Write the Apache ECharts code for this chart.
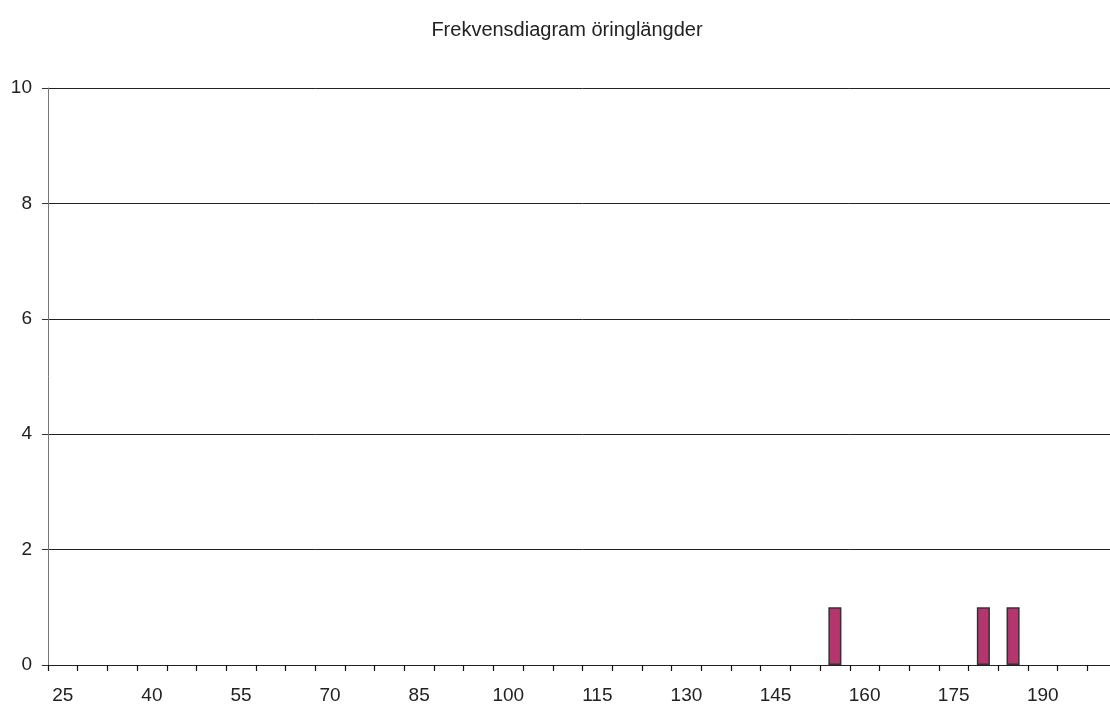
<!DOCTYPE html>
<html><head><meta charset="utf-8">
<script src="https://cdn.jsdelivr.net/npm/echarts@6/dist/echarts.min.js"></script>
<style>html,body{margin:0;padding:0;background:#fff;overflow:hidden}#c{width:1117px;height:711px}</style>
</head><body><div id="c"></div>
<script>
const title = 'Frekvensdiagram öringlängder';
const categories = ['25','30','35','40','45','50','55','60','65','70','75','80','85','90','95','100','105','110','115','120','125','130','135','140','145','150','155','160','165','170','175','180','185','190','195','200'];
const counts = [0,0,0,0,0,0,0,0,0,0,0,0,0,0,0,0,0,0,0,0,0,0,0,0,0,0,1,0,0,0,0,1,1,0,0,0];
const yTicks = {min:0, max:10, interval:2};

const font = 'Liberation Sans, Arial, sans-serif';
const chart = echarts.init(document.getElementById('c'), null, {renderer:'canvas'});
chart.setOption({
  animation:false,
  backgroundColor:'#fff',
  title:{text:title, left:562, top:15, textAlign:'center',
    textStyle:{fontFamily:font, fontSize:20, fontWeight:'normal', color:'#222'}},
  grid:{left:48, top:88, bottom:46, right:0, containLabel:false},
  xAxis:{type:'category', data:categories, boundaryGap:true,
    axisLine:{lineStyle:{color:'#222', width:1}},
    axisTick:{show:true, interval:0, length:6, alignWithLabel:false, lineStyle:{color:'#111', width:1.2}},
    axisLabel:{interval:2, margin:21, color:'#222', fontFamily:font, fontSize:19},
    splitLine:{show:false}},
  yAxis:{type:'value', min:yTicks.min, max:yTicks.max, interval:yTicks.interval,
    axisLine:{show:true, lineStyle:{color:'#777', width:1}},
    axisTick:{show:true, length:6, lineStyle:{color:'#333'}},
    axisLabel:{margin:16, color:'#222', fontFamily:font, fontSize:19},
    splitLine:{show:true, lineStyle:{color:'#222', width:1}}},
  series:[{type:'bar', data:counts.map(v => v === 0 ? '-' : v), barWidth:'44%',
    itemStyle:{color:'#b5366f', borderColor:'#333', borderWidth:1.5}}]
});
</script></body></html>
